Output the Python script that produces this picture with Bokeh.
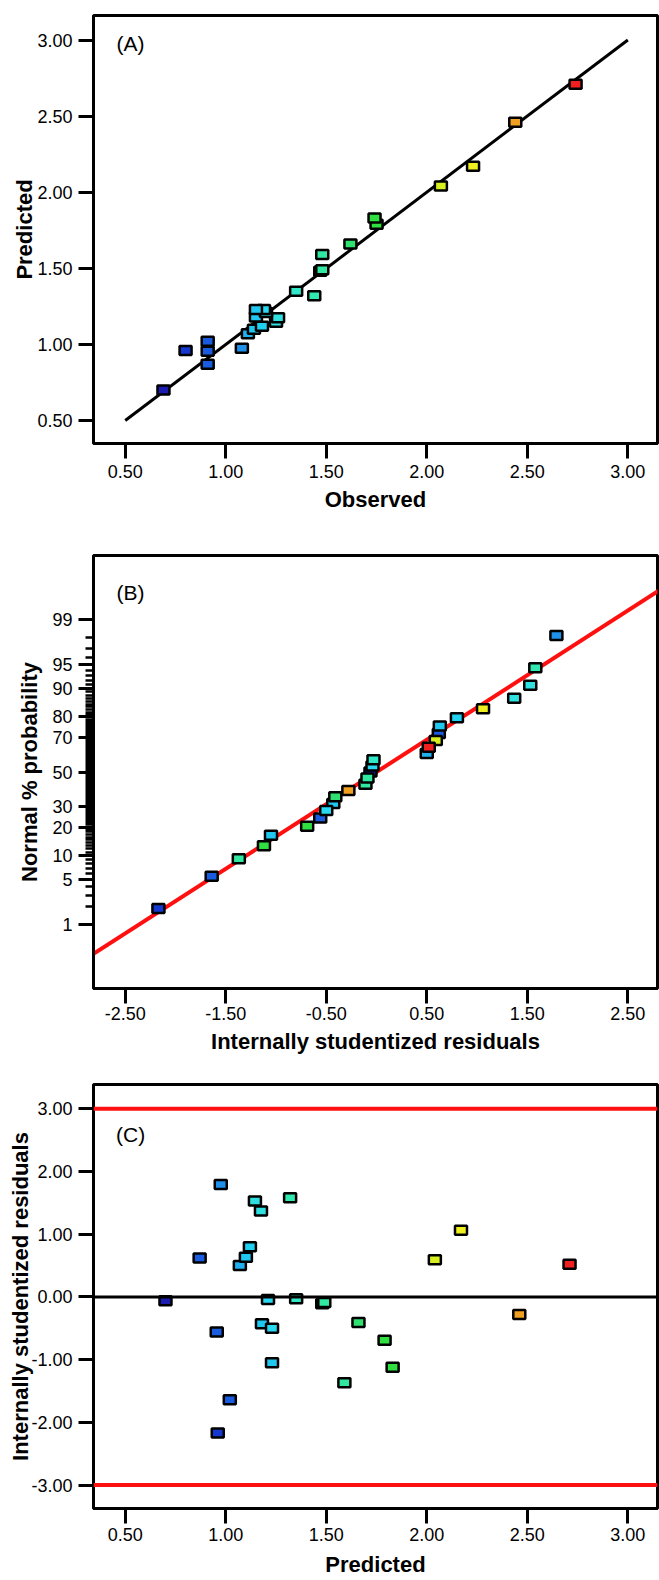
from statistics import NormalDist
from bokeh.plotting import figure
from bokeh.layouts import column
from bokeh.models import Range1d, FixedTicker, NumeralTickFormatter, Span, Label, ColumnDataSource
from bokeh.embed import file_html
from bokeh.resources import INLINE

# ---------------- data ----------------
observed = [0.69, 0.91, 0.91, 0.80, 1.08, 0.91, 1.11, 1.14, 1.18, 1.25, 1.26, 1.15, 1.20, 1.19,
            1.15, 1.44, 1.35, 1.47, 1.48, 1.48, 1.62, 1.75, 1.74, 2.07, 2.23, 2.44, 2.74]
predicted = [0.70, 0.87, 0.955, 0.96, 0.975, 1.02, 1.07, 1.10, 1.12, 1.145, 1.175, 1.18, 1.21, 1.23,
             1.23, 1.32, 1.35, 1.48, 1.49, 1.59, 1.66, 1.79, 1.83, 2.04, 2.17, 2.46, 2.71]
residuals = [-0.06, 0.62, -0.56, -2.17, 1.79, -1.64, 0.50, 0.63, 0.80, 1.53, 1.37, -0.43, -0.04, -0.50,
             -1.05, 1.58, -0.03, -0.11, -0.09, -1.37, -0.41, -0.69, -1.12, 0.59, 1.06, -0.28, 0.52]
normal_prob = [50.00, 72.22, 24.07, 1.85, 98.15, 5.56, 61.11, 75.93, 79.63, 90.74, 87.04, 31.48, 53.70, 27.78,
               16.67, 94.44, 57.41, 42.59, 46.30, 9.26, 35.19, 20.37, 12.96, 68.52, 83.33, 38.89, 64.81]
colors = ["#1c1cb0", "#1a5ce0", "#1a5ce0", "#1438d0", "#2090e8", "#1a5ce0", "#20b0f0", "#20c8f0", "#20d0f0",
          "#30e0e0", "#30e0e0", "#20c8f0", "#28d8f0", "#28d8f0", "#20c8f0", "#30e8b0", "#30e8c8", "#30e8a0",
          "#30e8a0", "#30e8a0", "#30e070", "#30e040", "#30e040", "#d8f020", "#f0f020", "#f0a020", "#f02020"]

pred_ticks = [0.5, 1.0, 1.5, 2.0, 2.5, 3.0]
resid_ticks = [-2.5, -1.5, -0.5, 0.5, 1.5, 2.5]
c_resid_ticks = [-3.0, -2.0, -1.0, 0.0, 1.0, 2.0, 3.0]
prob_ticks = [1, 5, 10, 20, 30, 50, 70, 80, 90, 95, 99]
fit_line = [0.5, 3.0]
normal_line_x = [-3.0, 3.0]
normal_line_z = [-2.96, 2.96]
control_limits = [-3.0, 3.0]

FONT = "Liberation Sans"
nd = NormalDist()
prob_z = [nd.inv_cdf(p / 100.0) for p in normal_prob]
major_z = [nd.inv_cdf(p / 100.0) for p in prob_ticks]
minor_z = [nd.inv_cdf(p / 100.0) for p in range(2, 99) if p not in prob_ticks]

src = ColumnDataSource(dict(obs=observed, pred=predicted, res=residuals, z=prob_z, col=colors))


def make_fig(height, top, bottom, xr, yr, xlabel, ylabel,
             ylab_standoff, xtick_standoff, xlab_standoff):
    p = figure(width=659, height=height, output_backend="svg", toolbar_location=None,
               x_range=Range1d(*xr), y_range=Range1d(*yr),
               min_border_left=93, min_border_right=2, min_border_top=top, min_border_bottom=bottom)
    p.grid.visible = False
    p.outline_line_color = "black"
    p.outline_line_width = 3
    p.outline_line_alpha = 1
    p.background_fill_color = "white"
    p.border_fill_color = "white"
    for ax in (p.xaxis[0], p.yaxis[0]):
        ax.axis_line_width = 3
        ax.axis_line_color = "black"
        ax.major_tick_line_width = 3
        ax.major_tick_line_color = "black"
        ax.major_tick_out = 15
        ax.major_tick_in = 0
        ax.minor_tick_line_color = None
        ax.major_label_text_font = FONT
        ax.major_label_text_font_size = "18px"
        ax.major_label_text_color = "black"
        ax.axis_label_text_font = FONT
        ax.axis_label_text_font_size = "22px"
        ax.axis_label_text_font_style = "bold"
        ax.axis_label_text_color = "black"
    p.xaxis[0].axis_label = xlabel
    p.yaxis[0].axis_label = ylabel
    p.yaxis[0].major_label_standoff = 6
    p.xaxis[0].major_label_standoff = xtick_standoff
    p.xaxis[0].axis_label_standoff = xlab_standoff
    p.yaxis[0].axis_label_standoff = ylab_standoff
    return p


def add_points(p, xcol, ycol):
    p.rect(x=xcol, y=ycol, width=12, height=9, width_units="screen", height_units="screen",
           source=src, fill_color="col", line_color="black", line_width=2.5)


def add_tag(p, x, y, txt):
    p.add_layout(Label(x=x, y=y, text=txt, text_font=FONT, text_font_size="21px",
                       text_color="black", text_align="left", text_baseline="middle"))


# ---------------- (A) Predicted vs Observed ----------------
pa = make_fig(530, 15, 87, (0.342, 3.1475), (0.349, 3.161), "Observed", "Predicted",
              ylab_standoff=-3, xtick_standoff=6, xlab_standoff=6)
pa.xaxis[0].ticker = FixedTicker(ticks=pred_ticks)
pa.yaxis[0].ticker = FixedTicker(ticks=pred_ticks)
pa.xaxis[0].formatter = NumeralTickFormatter(format="0.00")
pa.yaxis[0].formatter = NumeralTickFormatter(format="0.00")
pa.line(x=fit_line, y=fit_line, line_color="black", line_width=3)
add_points(pa, "obs", "pred")
add_tag(pa, 0.456, 2.976, "(A)")

# ---------------- (B) Normal probability plot ----------------
pb = make_fig(528, 25, 70, (-2.816, 2.796), (-3.31, 3.31), "Internally studentized residuals",
              "Normal % probability", ylab_standoff=7, xtick_standoff=3, xlab_standoff=6)
pb.xaxis[0].ticker = FixedTicker(ticks=resid_ticks)
pb.xaxis[0].formatter = NumeralTickFormatter(format="0.00")
pb.yaxis[0].ticker = FixedTicker(ticks=major_z, minor_ticks=minor_z)
pb.yaxis[0].major_label_overrides = {z: str(t) for z, t in zip(major_z, prob_ticks)}
pb.yaxis[0].minor_tick_line_color = "black"
pb.yaxis[0].minor_tick_line_width = 2.5
pb.yaxis[0].minor_tick_out = 8
pb.yaxis[0].minor_tick_in = 0
pb.line(x=normal_line_x, y=normal_line_z, line_color="#ff1010", line_width=4)
add_points(pb, "res", "z")
add_tag(pb, -2.586, 2.748, "(B)")

# ---------------- (C) Residuals vs Predicted ----------------
pc = make_fig(522, 26, 72, (0.342, 3.1475), (-3.373, 3.385), "Predicted",
              "Internally studentized residuals", ylab_standoff=-5, xtick_standoff=4, xlab_standoff=8)
pc.xaxis[0].ticker = FixedTicker(ticks=pred_ticks)
pc.yaxis[0].ticker = FixedTicker(ticks=c_resid_ticks)
pc.xaxis[0].formatter = NumeralTickFormatter(format="0.00")
pc.yaxis[0].formatter = NumeralTickFormatter(format="0.00")
for lim in control_limits:
    pc.add_layout(Span(location=lim, dimension="width", line_color="#ff1010", line_width=4))
pc.add_layout(Span(location=0.0, dimension="width", line_color="black", line_width=3))
add_points(pc, "pred", "res")
add_tag(pc, 0.454, 2.594, "(C)")

layout = column(pa, pb, pc)
open("out.html", "w").write(file_html(layout, INLINE))
